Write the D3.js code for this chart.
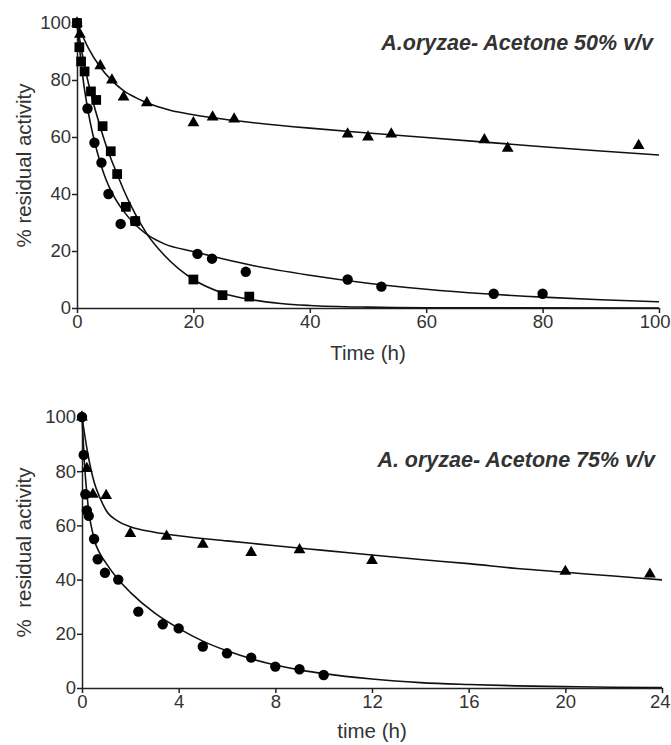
<!DOCTYPE html>
<html>
<head>
<meta charset="utf-8">
<script src="https://cdnjs.cloudflare.com/ajax/libs/d3/7.8.5/d3.min.js"></script>
<style>
  body { margin: 0; background: #fff; }
  text { font-family: "Liberation Sans", Arial, sans-serif; fill: #333; }
</style>
</head>
<body>
<svg id="chart" width="671" height="745"></svg>
<script>
// ---- top panel: A.oryzae, acetone 50% v/v ----
var topTriangles = [[0,100],[0.5,96],[4,85],[6,80],[8,74],[12,72],[20,65],[23.3,67],[27,66.3],
  [46.5,61],[50,60],[54,61],[70,59],[74,56],[96.5,57]];
var topCircles = [[0,100],[1.8,70],[3,58],[4.2,51],[5.4,40],[7.5,29.5],[10,30.5],[20.7,19],
  [23.2,17.3],[29,12.7],[46.5,10],[52.3,7.5],[71.6,5],[80,5]];
var topSquares = [[0,100],[0.4,91.5],[0.7,86.5],[1.3,83],[2.4,76],[3.3,73],[4.4,63.8],[5.8,55],
  [6.9,47],[8.4,35.5],[10,30.5],[20,10],[25,4.5],[29.6,4]];
// fitted curves
var topTriFit = [[0,100],[2,91],[4,84.5],[6,79.8],[8,76.3],[10,73.9],[12,72],[16,69.4],[20,67.8],
  [25,66.3],[30,65.1],[40,63.1],[50,61.4],[60,59.8],[70,58.2],[80,56.6],[90,55.1],[100,53.7]];
var topCirFit = [[0,100],[1,81],[2,68],[3,58.5],[4,51],[5,45],[6,40.5],[8,34],[10,29.3],[12,25.8],
  [15,22.5],[20,19.8],[25,17.3],[30,15],[40,11.5],[50,8.7],[60,6.6],[70,5],[80,3.8],[90,2.9],[100,2.2]];
var topSqFit = [[0,100],[1,88],[2,78.5],[3,70.5],[4,63.5],[5,57],[6,51.5],[7,46.5],[8,41.5],[10,33],
  [12,26],[15,18.5],[20,10],[25,5.3],[30,2.9],[35,1.6],[40,0.9],[50,0.3],[60,0.1],[100,0]];
var topXTicks = [0,20,40,60,80,100];
var topYTicks = [0,20,40,60,80,100];

// ---- bottom panel: A. oryzae, acetone 75% v/v ----
var botTriangles = [[0,100],[0.2,81],[0.45,71.5],[1,71],[2,57],[3.5,56],[5,53],[7,50],[9,51],
  [12,47],[20,43],[23.5,42]];
var botCircles = [[0,100],[0.07,86],[0.14,71.5],[0.2,65.5],[0.28,63.5],[0.5,55],[0.65,47.5],
  [0.95,42.5],[1.5,40],[2.33,28.2],[3.34,23.5],[4,22],[5,15.3],[6,12.8],[7,11.2],[8,7.9],[9,6.9],[10,4.8]];
var botTriFit = [[0,100],[0.25,86],[0.5,76],[0.75,70],[1,65.5],[1.5,61.5],[2,59.5],[3,57.5],[4,56.2],
  [6,54.3],[8,52.5],[10,50.8],[12,49.1],[14,47.4],[16,45.9],[18,44.1],[20,42.7],[22,41.3],[24,39.9]];
var botCirFit = [[0,100],[0.1,83],[0.25,67.5],[0.5,55],[0.75,49.5],[1,46],[1.5,40],[2,35.3],[3,27.7],
  [4,22],[5,17.3],[6,13.7],[7,10.8],[8,8.5],[9,6.7],[10,5.3],[12,3.3],[14,2],[16,1.3],[18,0.8],
  [20,0.5],[22,0.3],[24,0.2]];
var botXTicks = [0,4,8,12,16,20,24];
var botYTicks = [0,20,40,60,80,100];

var svg = d3.select("#chart");
var W = +svg.attr("width");

function panel(cfg) {
  var x = d3.scaleLinear().domain(cfg.xDomain).range([cfg.left, cfg.right]);
  var y = d3.scaleLinear().domain([0, 100]).range([cfg.bottom, cfg.top]);
  var g = svg.append("g");

  var xAxis = g.append("g")
    .attr("transform", "translate(0," + cfg.bottom + ")")
    .call(d3.axisBottom(x).tickValues(cfg.xTicks).tickSize(5).tickPadding(2).tickSizeOuter(0));
  var yAxis = g.append("g")
    .attr("transform", "translate(" + cfg.left + ",0)")
    .call(d3.axisLeft(y).tickValues(cfg.yTicks).tickSize(5).tickPadding(1).tickSizeOuter(0));
  [xAxis, yAxis].forEach(function(a) {
    a.selectAll("path,line").attr("stroke", "#222").attr("stroke-width", 1.5);
    a.selectAll("text").style("font-size", "18.5px").attr("fill", "#333");
  });
  // last x label sits against the page edge: nudge it inside
  xAxis.selectAll(".tick text").each(function() {
    var b = this.getBBox();
    var tx = x(d3.select(this.parentNode).datum());
    var over = tx + b.x + b.width - (W - 1);
    if (over > 0) d3.select(this).attr("dx", -over);
  });

  var line = d3.line()
    .x(function(d) { return x(d[0]); })
    .y(function(d) { return y(d[1]); })
    .curve(d3.curveMonotoneX);
  cfg.fits.forEach(function(f) {
    g.append("path").datum(f).attr("d", line)
      .attr("fill", "none").attr("stroke", "#111").attr("stroke-width", 1.6);
  });

  var sym = { circle: d3.symbolCircle, square: d3.symbolSquare, triangle: d3.symbolTriangle };
  var size = { circle: 85, square: 95, triangle: 60 };
  cfg.series.forEach(function(s) {
    g.selectAll(null).data(s.data).enter().append("path")
      .attr("d", d3.symbol().type(sym[s.shape]).size(size[s.shape]))
      .attr("transform", function(d) { return "translate(" + x(d[0]) + "," + y(d[1]) + ")"; })
      .attr("fill", "#000");
  });

  g.append("text")
    .attr("x", cfg.titleX).attr("y", cfg.titleY)
    .attr("text-anchor", "end")
    .style("font-size", "21.5px").style("font-weight", "bold").style("font-style", "italic")
    .attr("fill", "#222")
    .text(cfg.title);

  g.append("text")
    .attr("x", (cfg.left + cfg.right) / 2).attr("y", cfg.xLabelY)
    .attr("text-anchor", "middle").style("font-size", "20.5px")
    .text(cfg.xLabel);

  g.append("text")
    .attr("transform", "translate(" + cfg.yLabelX + "," + ((cfg.top + cfg.bottom) / 2) + ") rotate(-90)")
    .attr("text-anchor", "middle").style("font-size", "20.5px")
    .attr("xml:space", "preserve")
    .text(cfg.yLabel);
}

panel({
  xDomain: [0, 100], left: 77, right: 659, top: 23, bottom: 308,
  xTicks: topXTicks, yTicks: topYTicks,
  fits: [topTriFit, topCirFit, topSqFit],
  series: [{ shape: "triangle", data: topTriangles }, { shape: "circle", data: topCircles },
           { shape: "square", data: topSquares }],
  title: "A.oryzae- Acetone 50% v/v", titleX: 653, titleY: 50,
  xLabel: "Time (h)", xLabelY: 360, yLabel: "% residual activity", yLabelX: 31
});

panel({
  xDomain: [0, 24], left: 82, right: 662, top: 417, bottom: 688,
  xTicks: botXTicks, yTicks: botYTicks,
  fits: [botTriFit, botCirFit],
  series: [{ shape: "triangle", data: botTriangles }, { shape: "circle", data: botCircles }],
  title: "A. oryzae- Acetone 75% v/v", titleX: 655, titleY: 467,
  xLabel: "time (h)", xLabelY: 738, yLabel: "%  residual activity", yLabelX: 31
});
</script>
</body>
</html>
